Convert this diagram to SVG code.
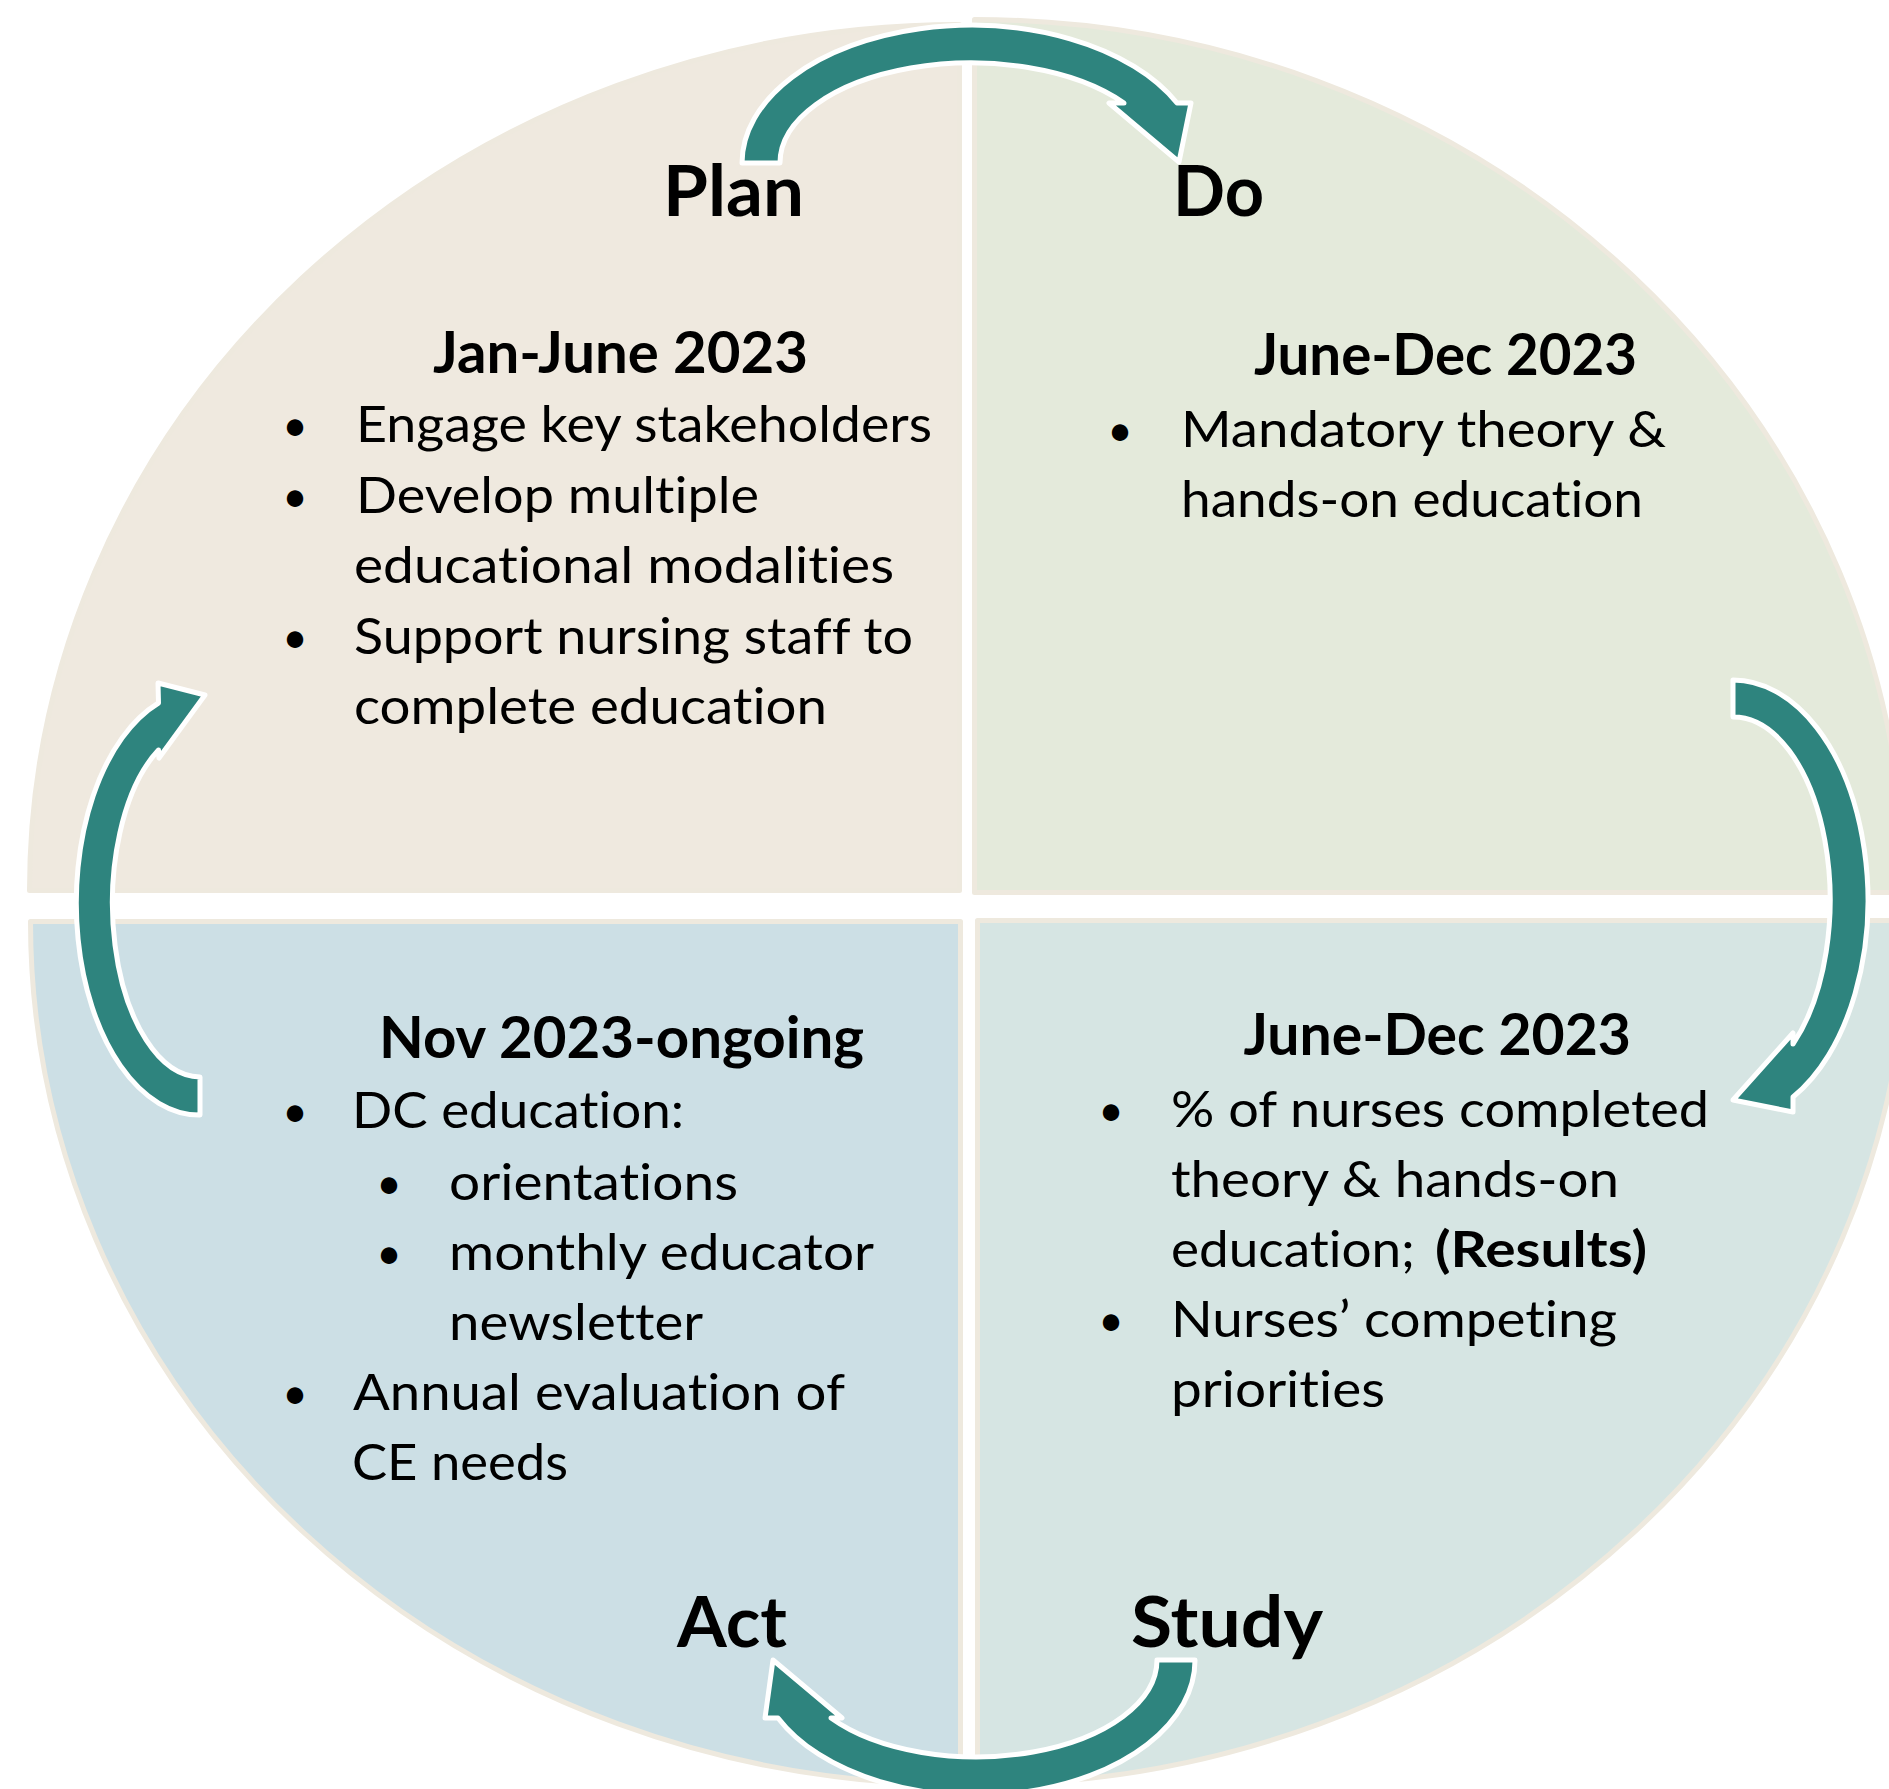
<svg xmlns="http://www.w3.org/2000/svg" width="1889" height="1789" viewBox="0 0 1889 1789">
<style>
.q{stroke:#EEE9DE;stroke-width:5;stroke-linejoin:round}
.arr{fill:#2E847E;stroke:#FFFFFF;stroke-width:5;stroke-linejoin:round}
text{font-family:Lato,"Liberation Sans",sans-serif;fill:#000000;font-variant-ligatures:none;font-feature-settings:"liga" 0,"clig" 0}
.lbl{font-size:70px;font-weight:bold}
.ttl{font-size:57px;font-weight:bold}
.body{font-size:50px}
.b{font-weight:bold}
.bul{font-size:44px;text-anchor:middle}
</style>
<rect width="1889" height="1789" fill="#FFFFFF"/>
<g id="plan">
<path class="q" fill="#EFE9DF" d="M959.5,890.5 L29.5,890.5 A930,866 0 0 1 959.5,24.5 Z"/>
<text class="lbl" x="663" y="216" textLength="141" lengthAdjust="spacingAndGlyphs">Plan</text>
<text class="ttl" x="433" y="373" textLength="375" lengthAdjust="spacingAndGlyphs">Jan-June 2023</text>
<text class="bul" x="295" y="441">•</text>
<text class="body" x="356" y="442" textLength="576" lengthAdjust="spacingAndGlyphs">Engage key stakeholders</text>
<text class="bul" x="295" y="511.5">•</text>
<text class="body" x="356" y="512.5" textLength="403" lengthAdjust="spacingAndGlyphs">Develop multiple</text>
<text class="body" x="354" y="583" textLength="540" lengthAdjust="spacingAndGlyphs">educational modalities</text>
<text class="bul" x="295" y="652.5">•</text>
<text class="body" x="354" y="653.5" textLength="559" lengthAdjust="spacingAndGlyphs">Support nursing staff to</text>
<text class="body" x="354" y="724" textLength="473" lengthAdjust="spacingAndGlyphs">complete education</text>
</g>
<g id="do">
<path class="q" fill="#E4EADB" d="M974.5,892.5 L974.5,19.5 A930,873 0 0 1 1904.5,892.5 Z"/>
<text class="lbl" x="1173" y="216" textLength="91" lengthAdjust="spacingAndGlyphs">Do</text>
<text class="ttl" x="1254" y="375" textLength="383" lengthAdjust="spacingAndGlyphs">June-Dec 2023</text>
<text class="bul" x="1120" y="446">•</text>
<text class="body" x="1181" y="447" textLength="485" lengthAdjust="spacingAndGlyphs">Mandatory theory &amp;</text>
<text class="body" x="1181" y="517" textLength="462" lengthAdjust="spacingAndGlyphs">hands-on education</text>
</g>
<g id="act">
<path class="q" fill="#CCDFE5" d="M960.5,921.5 L960.5,1784.5 A930,863 0 0 1 30.5,921.5 Z"/>
<text class="lbl" x="677" y="1647" textLength="110" lengthAdjust="spacingAndGlyphs">Act</text>
<text class="ttl" x="379" y="1058" textLength="485" lengthAdjust="spacingAndGlyphs">Nov 2023-ongoing</text>
<text class="bul" x="295" y="1127">•</text>
<text class="body" x="352" y="1128" textLength="332" lengthAdjust="spacingAndGlyphs">DC education:</text>
<text class="bul" x="389" y="1199">•</text>
<text class="body" x="449" y="1200" textLength="289" lengthAdjust="spacingAndGlyphs">orientations</text>
<text class="bul" x="389" y="1269">•</text>
<text class="body" x="449" y="1270" textLength="425" lengthAdjust="spacingAndGlyphs">monthly educator</text>
<text class="body" x="449" y="1340" textLength="254" lengthAdjust="spacingAndGlyphs">newsletter</text>
<text class="bul" x="295" y="1409">•</text>
<text class="body" x="353" y="1410" textLength="492" lengthAdjust="spacingAndGlyphs">Annual evaluation of</text>
<text class="body" x="352" y="1480" textLength="216" lengthAdjust="spacingAndGlyphs">CE needs</text>
</g>
<g id="study">
<path class="q" fill="#D6E5E3" d="M977.5,920.5 L1907.5,920.5 A930,864 0 0 1 977.5,1784.5 Z"/>
<text class="lbl" x="1131" y="1647" textLength="192" lengthAdjust="spacingAndGlyphs">Study</text>
<text class="ttl" x="1243.5" y="1055" textLength="387.5" lengthAdjust="spacingAndGlyphs">June-Dec 2023</text>
<text class="bul" x="1111" y="1126">•</text>
<text class="body" x="1171" y="1127" textLength="538" lengthAdjust="spacingAndGlyphs">% of nurses completed</text>
<text class="body" x="1171" y="1197" textLength="448" lengthAdjust="spacingAndGlyphs">theory &amp; hands-on</text>
<text class="body" x="1171" y="1267" textLength="244" lengthAdjust="spacingAndGlyphs">education;</text>
<text class="body b" x="1435" y="1267" textLength="212" lengthAdjust="spacingAndGlyphs">(Results)</text>
<text class="bul" x="1111" y="1336">•</text>
<text class="body" x="1171" y="1337" textLength="446" lengthAdjust="spacingAndGlyphs">Nurses’ competing</text>
<text class="body" x="1171" y="1407" textLength="214" lengthAdjust="spacingAndGlyphs">priorities</text>
</g>
<g id="connectors">
<path id="arrow-plan-do" class="arr" d="M742,163 A229,138 0 0 1 1177,103 L1191,103 L1179,162 L1109,103 L1124,103 A191,100 0 0 0 780,163 Z"/>
<path id="arrow-do-study" class="arr" d="M1733,680 A135,220 0 0 1 1793,1097 L1793,1112 L1733,1100 L1793,1033 L1793,1044 A97,183 0 0 0 1733,717 Z"/>
<path id="arrow-study-act" class="arr" d="M1195,1660 A219,135 0 0 1 778,1718 L765,1718 L773,1660 L842,1718 L831,1718 A181,97 0 0 0 1157,1660 Z"/>
<path id="arrow-act-plan" class="arr" d="M200,1115 A123,212 0 0 1 158.5,703 L158,683 L205,695 L159,758 L158.5,750 A88,174 0 0 0 200,1077 Z"/>
</g>
</svg>
